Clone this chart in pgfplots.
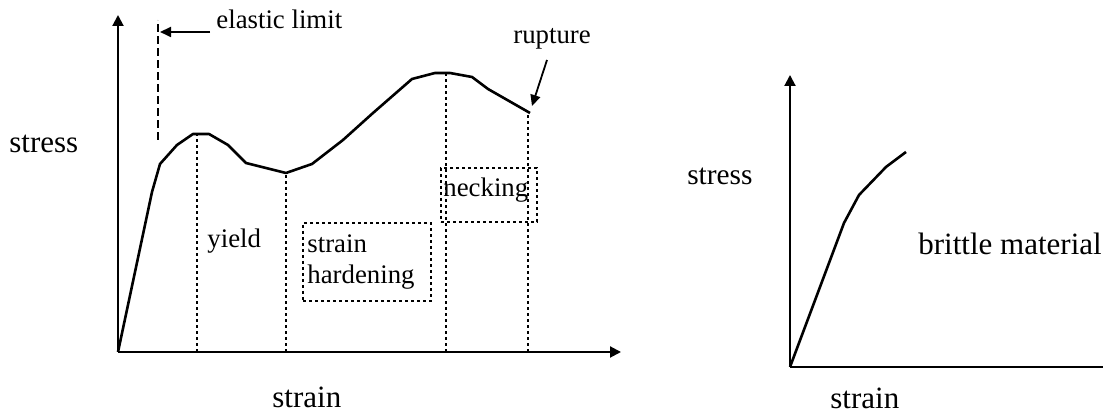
\documentclass[border=0pt]{standalone}
\usepackage{fontspec}
\setmainfont{Liberation Serif}
\usepackage{pgfplots}
\pgfplotsset{compat=1.18}
\usetikzlibrary{arrows.meta}

% one data unit = one pixel of the 1103x415 reference (0.5pt)
\pgfplotsset{
  sketch/.style={
    x=0.5pt, y=0.5pt, anchor=south west,
    axis lines=left, xtick=\empty, ytick=\empty,
    xmin=0, ymin=0, enlargelimits=false, clip=false,
    axis line style={line width=1pt, -{Triangle[length=5.5pt,width=5.5pt]}},
    every outer x axis line/.append style={-{Triangle[length=5.5pt,width=5.5pt]}},
    every outer y axis line/.append style={-{Triangle[length=5.5pt,width=5.5pt]}},
  },
  curve/.style={line width=1.3pt, line join=round, mark=none},
  guide/.style={line width=1.1pt, dash pattern=on 1.4pt off 1.6pt, mark=none},
  pointer/.style={line width=0.9pt, mark=none, -{Triangle[length=5.5pt,width=5pt]}},
}
\tikzset{
  big/.style={font=\fontsize{15.5}{18}\selectfont, inner sep=0pt, anchor=base west},
  small/.style={font=\fontsize{13.4}{15.5}\selectfont, inner sep=0pt, anchor=base west},
}

\begin{document}
\begin{tikzpicture}
% ductile material
\begin{axis}[sketch, at={(59pt,31.5pt)}, xmax=503, ymax=337]
\addplot[curve] coordinates {
 (0,0) (34,160) (42,188) (59,207) (75,218) (91,218) (110,207) (128,189)
 (168,179) (194,188) (225,212) (255,239) (294,273) (317,279) (332,279)
 (354,275) (370,263) (412,239)
};
% region boundaries
\addplot[guide] coordinates {(79,0) (79,218)};
\addplot[guide] coordinates {(168,0) (168,179)};
\addplot[guide] coordinates {(328,0) (328,279)};
\addplot[guide] coordinates {(410,0) (410,239)};
% label boxes
\addplot[guide] coordinates {(185,51) (313,51) (313,129) (185,129) (185,51)};
\addplot[guide] coordinates {(323,130) (419,130) (419,184) (323,184) (323,130)};
% elastic limit
\addplot[line width=1pt, dash pattern=on 4pt off 2pt, mark=none] coordinates {(40,212) (40,332)};
\addplot[pointer] coordinates {(92,320) (42,320)};
\addplot[pointer] coordinates {(429,292) (414,246)};
\node[small] at (98,323) {elastic limit};
\node[small] at (395,308) {rupture};
\node[small] at (89,104) {yield};
\node[small] at (189,99) {strain};
\node[small] at (189,68) {hardening};
\node[small] at (325,155) {necking};
\node[big] at (-109,199) {stress};
\node[big] at (154,-56) {strain};
\end{axis}
% brittle material
\begin{axis}[sketch, at={(395pt,24pt)}, xmax=325, ymax=292]
\addplot[curve] coordinates {(0,0) (54,144) (69,172) (96,200) (116,215)};
\node[font=\fontsize{14.7}{17}\selectfont, inner sep=0pt, anchor=base east] at (-37,182) {stress};
\node[big] at (128,112) {brittle material};
\node[big] at (40,-42) {strain};
\end{axis}
\pgfresetboundingbox
\useasboundingbox (0,0) rectangle (551.5pt,207.5pt);
\end{tikzpicture}
\end{document}
